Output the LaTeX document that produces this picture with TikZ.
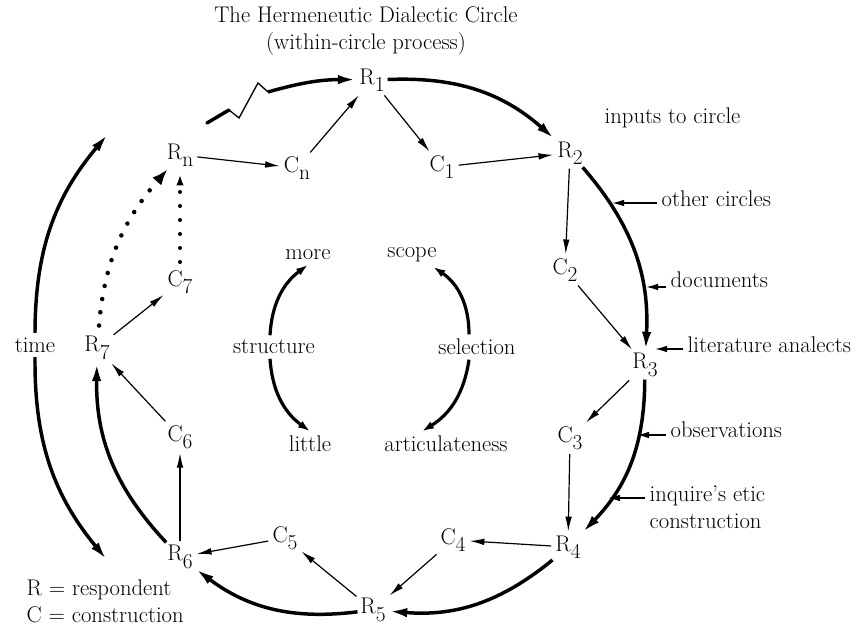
\documentclass[tikz,border=0pt]{standalone}
\usepackage{tikz}
\usetikzlibrary{arrows.meta,positioning,calc}
\newcommand{\rsub}[1]{\raisebox{-5.5pt}{\fontsize{16}{16}\selectfont #1}}

\begin{document}
\begin{tikzpicture}[x=0.75pt,y=-0.75pt,font=\fontsize{17}{20}\selectfont,
    lab/.style={inner sep=2pt},
    smallarr/.style={line width=0.9pt,-{Latex[length=11pt,width=5pt]},shorten >=1pt,shorten <=1pt},
    bigarc/.style={line width=2.6pt,-{Latex[length=14pt,width=7pt]}},
    inarr/.style={line width=1.1pt,-{Latex[length=9pt,width=5pt]}},
    bigdots/.style={line width=3.4pt,line cap=round,dash pattern=on 0pt off 10pt,-{Latex[length=12pt,width=9pt]}},
    smalldots/.style={line width=3pt,line cap=round,dash pattern=on 0pt off 10.5pt,-{Latex[length=12pt,width=5pt]}},
    midarc/.style={line width=2.4pt,-{Latex[length=9pt,width=6pt]}}]
  \useasboundingbox (0,0) rectangle (864,630);

  \node[align=center] (title) at (366,31) {The Hermeneutic Dialectic Circle\\(within-circle process)};

  % respondents and constructions
  \node[lab] (r1) at (372,80) {R\rsub{1}};
  \node[lab] (r2) at (570,153) {R\rsub{2}};
  \node[lab] (r3) at (645,365) {R\rsub{3}};
  \node[lab] (r4) at (568,547) {R\rsub{4}};
  \node[lab] (r5) at (373,610) {R\rsub{5}};
  \node[lab] (r6) at (180,557) {R\rsub{6}};
  \node[lab] (r7) at (97,348) {R\rsub{7}};
  \node[lab] (rn) at (180,155) {R\rsub{n}};
  \node[lab] (c1) at (442,167) {C\rsub{1}};
  \node[lab] (c2) at (565,270) {C\rsub{2}};
  \node[lab] (c3) at (570,438) {C\rsub{3}};
  \node[lab] (c4) at (453,540) {C\rsub{4}};
  \node[lab] (c5) at (285,538) {C\rsub{5}};
  \node[lab] (c6) at (180,437) {C\rsub{6}};
  \node[lab] (c7) at (180,282) {C\rsub{7}};
  \node[lab] (cn) at (297,168) {C\rsub{n}};

  % inner arrows
  \draw[smallarr] (cn) -- (r1);
  \draw[smallarr] (r1) -- (c1);
  \draw[smallarr] (c1) -- (r2);
  \draw[smallarr] (r2) -- (c2);
  \draw[smallarr] (c2) -- (r3);
  \draw[smallarr] (r3) -- (c3);
  \draw[smallarr] (c3) -- (r4);
  \draw[smallarr] (r4) -- (c4);
  \draw[smallarr] (c4) -- (r5);
  \draw[smallarr] (r5) -- (c5);
  \draw[smallarr] (c5) -- (r6);
  \draw[smallarr] (r6) -- (c6);
  \draw[smallarr] (c6) -- (r7);
  \draw[smallarr] (r7) -- (c7);
  \draw[smallarr] (rn) -- (cn);
  \draw[smalldots,shorten <=4pt] (c7) -- (rn);
  \draw[bigdots,shorten <=6pt] (r7) to[bend left=18] (rn);

  % outer circle
  \draw[bigarc] (r1) to[bend left=22] (r2);
  \draw[bigarc] (r2) to[bend left=22] (r3);
  \draw[bigarc] (r3) to[bend left=22] (r4);
  \draw[bigarc] (r4) to[bend left=22] (r5);
  \draw[bigarc] (r5) to[bend left=22] (r6);
  \draw[bigarc] (r6) to[bend left=22] (r7);

  % zigzag into R1
  \coordinate (z0) at (207,123);
  \coordinate (z1) at (229,110);
  \coordinate (z2) at (239,118);
  \coordinate (z3) at (258,83);
  \coordinate (z4) at (268,92);
  \draw[line width=2.6pt,line cap=round] (z0) -- (z1);
  \draw[line width=1pt,line join=miter] (z1) -- (z2) -- (z3) -- (z4);
  \draw[bigarc] (z4) to[bend left=8] (r1);

  % inputs
  \node[anchor=west] at (600,118) {inputs to circle};
  \node[anchor=west] (oc) at (657,199) {other circles};
  \node[anchor=west] (doc) at (666,280) {documents};
  \node[anchor=west] (lit) at (683,345) {literature analects};
  \node[anchor=west] (obs) at (666,430) {observations};
  \node[anchor=west,align=left] (inq) at (645,507) {inquire's etic\\construction};
  \coordinate (a1) at (612,203);
  \coordinate (a2) at (646,287);
  \coordinate (a3) at (655,349);
  \coordinate (a4) at (637,435);
  \coordinate (a5) at (608,498);
  \draw[inarr] (oc.west |- a1) -- (a1);
  \draw[inarr] (doc.west |- a2) -- (a2);
  \draw[inarr] (lit.west |- a3) -- (a3);
  \draw[inarr] (obs.west |- a4) -- (a4);
  \draw[inarr] (inq.west |- a5) -- (a5);

  % time
  \node (time) at (35,345) {time};
  \coordinate (t1) at (108,134);
  \coordinate (t2) at (107,560);
  \draw[bigarc] (time.north) to[bend left=20] (t1);
  \draw[bigarc] (time.south) to[bend right=20] (t2);

  % centre
  \node (more) at (308,255) {more};
  \node (scope) at (412,255) {scope};
  \node (structure) at (274,347) {structure};
  \node (selection) at (477,347) {selection};
  \node (little) at (310,444) {little};
  \node (artic) at (446,444) {articulateness};
  \draw[midarc] ([xshift=-3pt]structure.north) to[bend left=25] (more.south);
  \draw[midarc] ([xshift=-3pt]structure.south) to[bend right=25] (little.north);
  \draw[midarc] ([xshift=-6pt]selection.north) to[bend right=28] ([xshift=-6pt]scope.south east);
  \draw[midarc] ([xshift=-6pt]selection.south) to[bend left=25] ([xshift=-18pt]artic.north);

  \node[anchor=west,align=left] (legend) at (22,601) {R = respondent\\C = construction};
\end{tikzpicture}
\end{document}
